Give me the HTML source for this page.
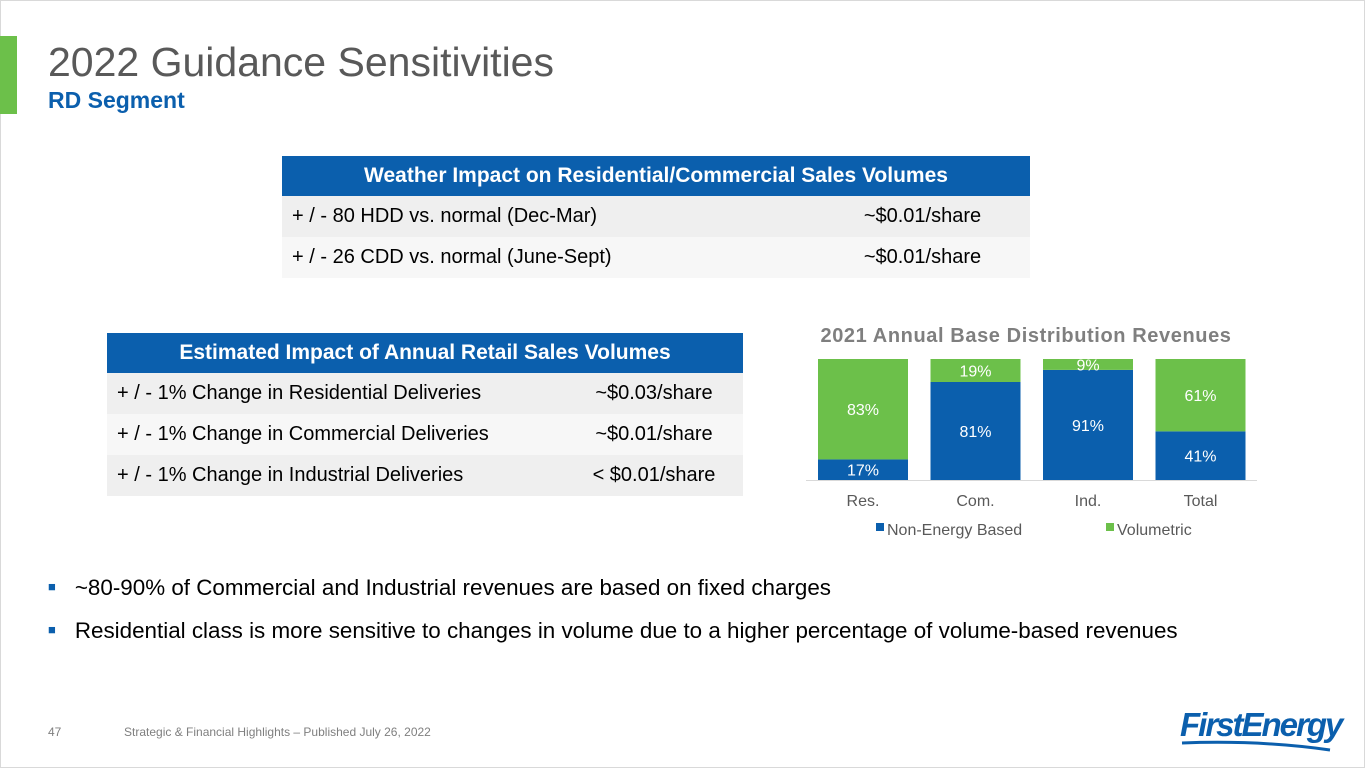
<!DOCTYPE html>
<html><head><meta charset="utf-8"><style>
body{margin:0;width:1365px;height:768px;overflow:hidden;background:#fff;font-family:"Liberation Sans",Arial,sans-serif;position:relative}
.abs{position:absolute}
table{border-collapse:collapse;position:absolute;font-size:20px;color:#000}
th{background:#0b5fad;color:#fff;font-weight:bold;height:40px;font-size:21px;padding:0}
td{height:41px;padding:0 0 0 10px}
tr.a td{background:#efefef} tr.b td{background:#f7f7f7}
td.v{text-align:center;padding:0}
.bul{position:absolute;left:48px;font-size:22.4px;color:#000;white-space:nowrap}
.bul span{color:#0b5fad;font-size:13px;margin-right:19px;vertical-align:4px}
</style></head><body>
<div class="abs" style="left:0;top:0;width:1363px;height:766px;border:1px solid #d9d9d9"></div>
<div class="abs" style="left:0;top:36px;width:17px;height:78px;background:#6cc04a"></div>
<div class="abs" style="left:48px;top:39px;font-size:41px;color:#595959">2022 Guidance Sensitivities</div>
<div class="abs" style="left:48px;top:87px;font-size:23px;font-weight:bold;color:#0b5fad">RD Segment</div>

<table style="left:282px;top:156px;width:748px">
<tr><th colspan="2">Weather Impact on Residential/Commercial Sales Volumes</th></tr>
<tr class="a"><td>+ / - 80 HDD vs. normal (Dec-Mar)</td><td class="v" style="width:215px">~$0.01/share</td></tr>
<tr class="b"><td>+ / - 26 CDD vs. normal (June-Sept)</td><td class="v">~$0.01/share</td></tr>
</table>

<table style="left:107px;top:333px;width:636px">
<tr><th colspan="2">Estimated Impact of Annual Retail Sales Volumes</th></tr>
<tr class="a"><td>+ / - 1% Change in Residential Deliveries</td><td class="v" style="width:178px">~$0.03/share</td></tr>
<tr class="b"><td>+ / - 1% Change in Commercial Deliveries</td><td class="v">~$0.01/share</td></tr>
<tr class="a"><td>+ / - 1% Change in Industrial Deliveries</td><td class="v">&lt; $0.01/share</td></tr>
</table>

<svg class="abs" id="chart" style="left:0;top:0" width="1365" height="768"></svg>

<div class="bul" style="top:575px"><span>■</span>~80-90% of Commercial and Industrial revenues are based on fixed charges</div>
<div class="bul" style="top:618px"><span>■</span>Residential class is more sensitive to changes in volume due to a higher percentage of volume-based revenues</div>

<div class="abs" style="left:48px;top:725px;font-size:12px;color:#7f7f7f">47</div>
<div class="abs" style="left:124px;top:725px;font-size:12px;color:#7f7f7f">Strategic &amp; Financial Highlights – Published July 26, 2022</div>
<div class="abs" style="left:1180px;top:706px;font-size:33px;font-weight:bold;font-style:italic;color:#0b5fad;letter-spacing:-2px">FirstEnergy</div>
<svg class="abs" style="left:1180px;top:740px" width="160" height="12"><path d="M2 3 Q80 0 150 10" stroke="#0b5fad" stroke-width="3" fill="none"/></svg>

<script>
const categories=["Res.","Com.","Ind.","Total"];
const nonEnergy=[17,81,91,41];
const volumetric=[83,19,9,61];
const ns="http://www.w3.org/2000/svg";
const svg=document.getElementById('chart');
const X0=818,STEP=112.5,BW=90,TOP=359,BASE=480,H=BASE-TOP;
function xPos(i){return X0+i*STEP;}
function yH(v,tot){return v/tot*H;}
function mk(t,a){const e=document.createElementNS(ns,t);for(const k in a)e.setAttribute(k,a[k]);svg.appendChild(e);return e;}
let t=mk('text',{x:1026,y:342,'text-anchor':'middle','font-size':20,'font-weight':'bold',fill:'#7f7f7f','letter-spacing':'0.6'});
t.textContent='2021 Annual Base Distribution Revenues';


categories.forEach((c,i)=>{
  const tot=nonEnergy[i]+volumetric[i];
  const hb=yH(nonEnergy[i],tot),hg=yH(volumetric[i],tot);
  const x=xPos(i);
  let b=mk('rect',{x:x,y:BASE-hb,width:BW,height:hb,fill:'#0b5fad'});
  
  
  let g=mk('rect',{x:x,y:BASE-hb-hg,width:BW,height:hg,fill:'#6cc04a'});
  
  
  let l1=mk('text',{x:x+BW/2,y:BASE-hb/2+6,'text-anchor':'middle','font-size':16,fill:'#fff'});
  l1.textContent=nonEnergy[i]+'%';
  
  
  let l2=mk('text',{x:x+BW/2,y:BASE-hb-hg/2+6,'text-anchor':'middle','font-size':16,fill:'#fff'});
  l2.textContent=volumetric[i]+'%';
  
  
  let ct=mk('text',{x:x+BW/2,y:506,'text-anchor':'middle','font-size':16,fill:'#595959'});
  ct.textContent=c;
  
  
});
let ax=mk('line',{x1:806,x2:1257,y1:BASE+0.5,y2:BASE+0.5,stroke:'#d9d9d9'});


let s1=mk('rect',{x:876,y:523,width:8,height:8,fill:'#0b5fad'});


let lt1=mk('text',{x:887,y:535,'font-size':16,fill:'#595959'});lt1.textContent='Non-Energy Based';


let s2=mk('rect',{x:1106,y:523,width:8,height:8,fill:'#6cc04a'});


let lt2=mk('text',{x:1117,y:535,'font-size':16,fill:'#595959'});lt2.textContent='Volumetric';


</script>
</body></html>
